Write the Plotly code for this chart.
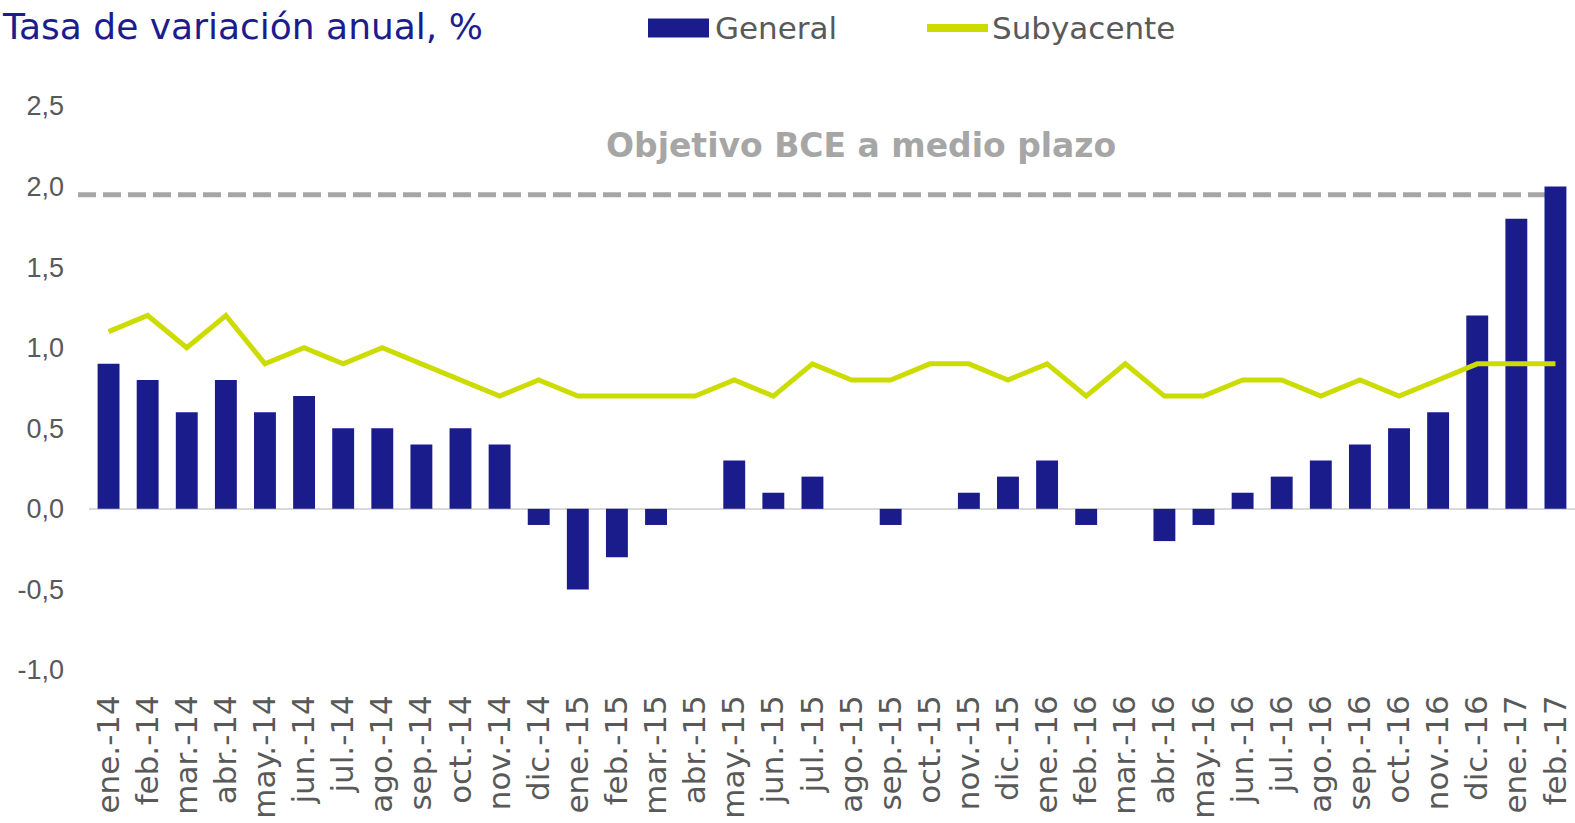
import plotly.graph_objects as go

months = ["ene.-14", "feb.-14", "mar.-14", "abr.-14", "may.-14", "jun.-14", "jul.-14", "ago.-14",
          "sep.-14", "oct.-14", "nov.-14", "dic.-14",
          "ene.-15", "feb.-15", "mar.-15", "abr.-15", "may.-15", "jun.-15", "jul.-15", "ago.-15",
          "sep.-15", "oct.-15", "nov.-15", "dic.-15",
          "ene.-16", "feb.-16", "mar.-16", "abr.-16", "may.-16", "jun.-16", "jul.-16", "ago.-16",
          "sep.-16", "oct.-16", "nov.-16", "dic.-16",
          "ene.-17", "feb.-17"]

general = [0.9, 0.8, 0.6, 0.8, 0.6, 0.7, 0.5, 0.5, 0.4, 0.5, 0.4, -0.1,
           -0.5, -0.3, -0.1, 0.0, 0.3, 0.1, 0.2, 0.0, -0.1, 0.0, 0.1, 0.2,
           0.3, -0.1, 0.0, -0.2, -0.1, 0.1, 0.2, 0.3, 0.4, 0.5, 0.6, 1.2,
           1.8, 2.0]

subyacente = [1.1, 1.2, 1.0, 1.2, 0.9, 1.0, 0.9, 1.0, 0.9, 0.8, 0.7, 0.8,
              0.7, 0.7, 0.7, 0.7, 0.8, 0.7, 0.9, 0.8, 0.8, 0.9, 0.9, 0.8,
              0.9, 0.7, 0.9, 0.7, 0.7, 0.8, 0.8, 0.7, 0.8, 0.7, 0.8, 0.9,
              0.9, 0.9]

objetivo_bce = 1.95

y_ticks = [-1.0, -0.5, 0.0, 0.5, 1.0, 1.5, 2.0, 2.5]
y_tick_text = [f"{v:.1f}".replace(".", ",") for v in y_ticks]

BAR_COLOR = "#1A1C8C"
LINE_COLOR = "#CCDC00"
TEXT_GRAY = "#595959"
TITLE_BLUE = "#1C1C8E"
TARGET_GRAY = "#A6A6A6"
FONT = "DejaVu Sans"

W, H = 1575, 823
ML, MR, MT, MB = 89, 0, 106, 153
PW, PH = W - ML - MR, H - MT - MB


def px(x):
    return (x - ML) / PW


def py(y):
    return (H - MB - y) / PH


fig = go.Figure()
fig.add_trace(go.Bar(x=months, y=general, name="General", marker_color=BAR_COLOR,
                     marker_line_width=0, showlegend=False))
fig.add_trace(go.Scatter(x=months, y=subyacente, name="Subyacente", mode="lines",
                         line=dict(color=LINE_COLOR, width=5), showlegend=False))

shapes = [
    # ECB target dashed line
    dict(type="line", xref="paper", yref="y", x0=px(78), x1=px(1555),
         y0=objetivo_bce, y1=objetivo_bce,
         line=dict(color=TARGET_GRAY, width=5, dash="18px,7px"), layer="below"),
    # legend symbols
    dict(type="rect", xref="paper", yref="paper", x0=px(648), x1=px(709),
         y0=py(37.5), y1=py(18.5), fillcolor=BAR_COLOR, line=dict(width=0)),
    dict(type="line", xref="paper", yref="paper", x0=px(927), x1=px(988),
         y0=py(28), y1=py(28), line=dict(color=LINE_COLOR, width=8)),
]

annotations = [
    dict(text="Tasa de variación anual, %", xref="paper", yref="paper",
         x=px(0), y=py(26), xanchor="left", yanchor="middle", showarrow=False,
         font=dict(family=FONT, size=36, color=TITLE_BLUE)),
    dict(text="General", xref="paper", yref="paper", x=px(713), y=py(28),
         xanchor="left", yanchor="middle", showarrow=False,
         font=dict(family=FONT, size=31, color=TEXT_GRAY)),
    dict(text="Subyacente", xref="paper", yref="paper", x=px(990), y=py(28),
         xanchor="left", yanchor="middle", showarrow=False,
         font=dict(family=FONT, size=31, color=TEXT_GRAY)),
    dict(text="<b>Objetivo BCE a medio plazo</b>", xref="paper", yref="paper",
         x=px(861), y=py(145), xanchor="center", yanchor="middle", showarrow=False,
         font=dict(family=FONT, size=33, color=TARGET_GRAY)),
]

fig.update_layout(
    width=W, height=H,
    margin=dict(l=ML, r=MR, t=MT, b=MB, pad=0),
    paper_bgcolor="white", plot_bgcolor="white",
    separators=",.",
    bargap=0.44,
    shapes=shapes,
    annotations=annotations,
    showlegend=False,
    xaxis=dict(type="category", range=[-0.5, len(months) - 0.5], tickangle=-90,
               tickfont=dict(family=FONT, size=31, color=TEXT_GRAY),
               showgrid=False, showline=False, zeroline=False, ticks="",
               ticklabelstandoff=18, automargin=False),
    yaxis=dict(range=[-1.0, 2.5], tickvals=y_ticks, ticktext=y_tick_text,
               tickfont=dict(family="Liberation Sans", size=27, color=TEXT_GRAY),
               showgrid=False, showline=False, zeroline=True,
               zerolinecolor="#D9D9D9", zerolinewidth=2, ticks="",
               ticklabelstandoff=24, automargin=False),
)

fig.write_html("out.html", config={"displayModeBar": False},
               post_script="document.body.style.margin='0px';document.body.style.overflow='hidden';")
